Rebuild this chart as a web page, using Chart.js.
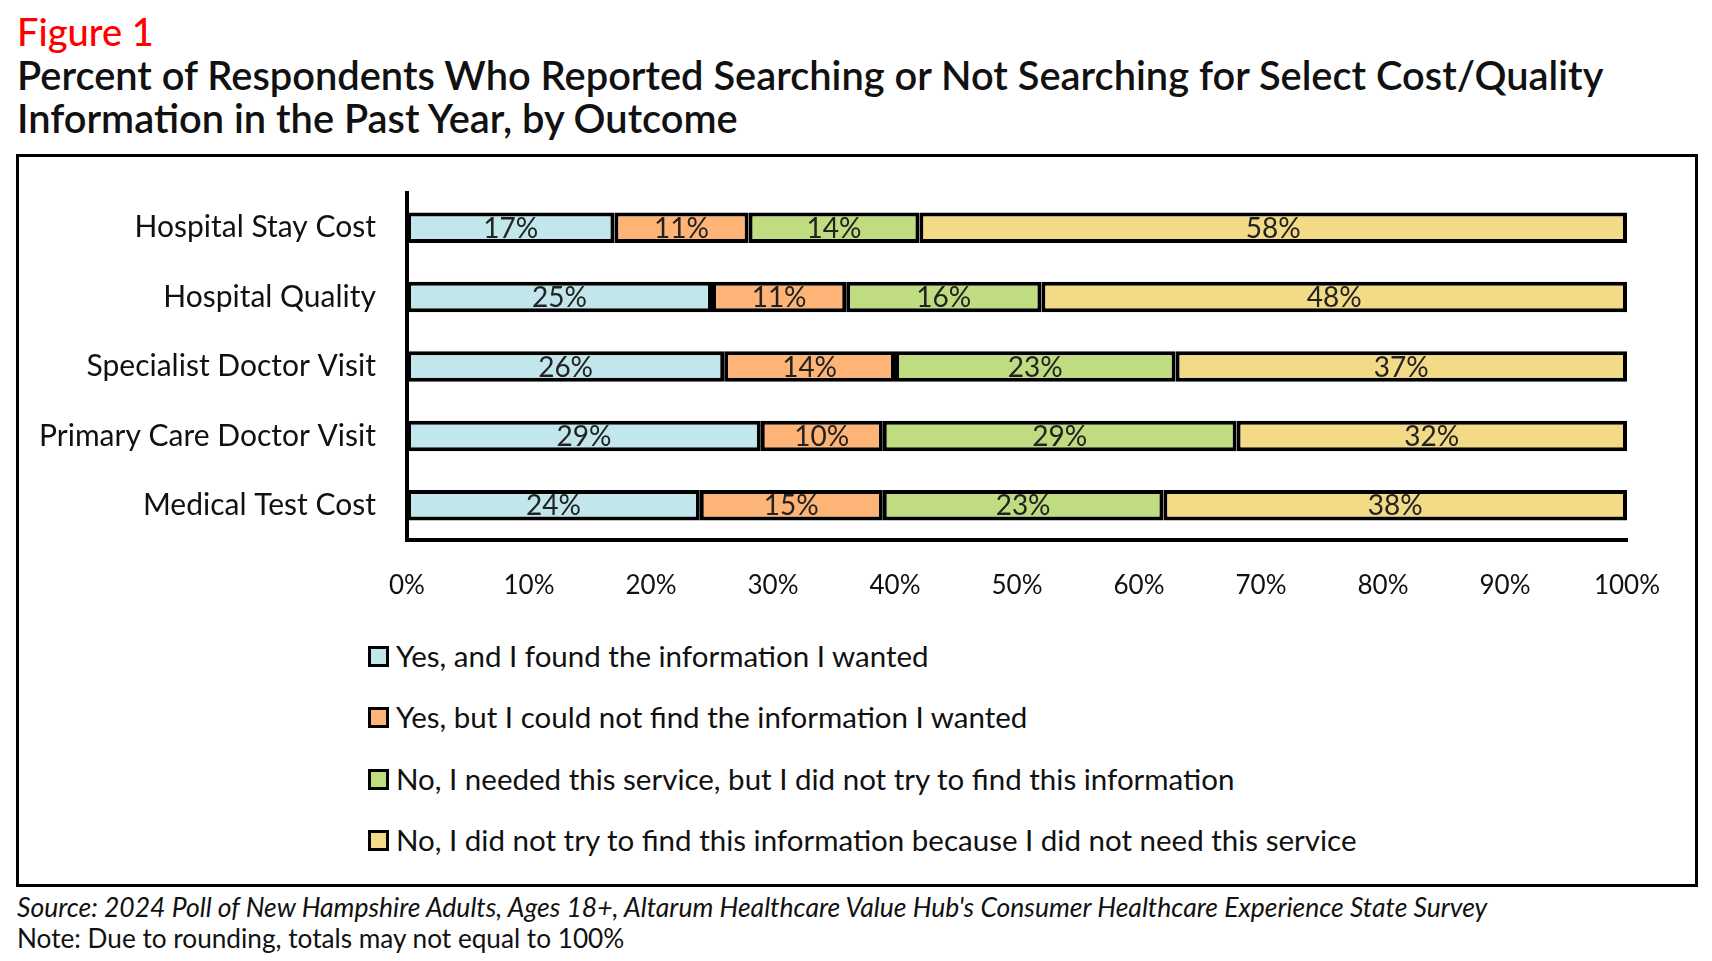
<!DOCTYPE html>
<html>
<head>
<meta charset="utf-8">
<script src="https://cdn.jsdelivr.net/npm/chart.js@4"></script>
<style>
    body { margin: 0; background: #fff; font-family: Lato, "Noto Sans", sans-serif; color: #111; }
    #page { position: relative; width: 1712px; height: 961px; overflow: hidden; }
    .fig { position: absolute; left: 17px; top: 8px; font-size: 38px; color: #ff0000; font-weight: 500; }
    .title { position: absolute; left: 17px; top: 53px; font-size: 39.8px; line-height: 43px; font-weight: 600; }
    #box { position: absolute; left: 16px; top: 154px; width: 1676px; height: 727px; border: 3px solid #000; }
    #wrap { position: absolute; left: 16px; top: 144px; width: 1682px; height: 473px; }
    #legend { position: absolute; left: 368px; top: 625px; font-size: 29.5px; }
    .item { height: 61.3px; display: flex; align-items: center; }
    .sw { width: 15px; height: 15px; border: 3px solid #000; margin: 2px 7px 0 0; box-sizing: content-box; }
    .src { position: absolute; left: 17px; top: 891px; font-size: 26.5px; font-style: italic; }
    .note { position: absolute; left: 17px; top: 922px; font-size: 26.2px; }
</style>
</head>
<body>
<div id="page">
    <div class="fig">Figure 1</div>
    <div class="title">Percent of Respondents Who Reported Searching or Not Searching for Select Cost/Quality<br>Information in the Past Year, by Outcome</div>
    <div id="box"></div>
    <div id="wrap"><canvas id="chart"></canvas></div>
    <div id="legend"></div>
    <div class="src">Source: 2024 Poll of New Hampshire Adults, Ages 18+, Altarum Healthcare Value Hub's Consumer Healthcare Experience State Survey</div>
    <div class="note">Note: Due to rounding, totals may not equal to 100%</div>
</div>
<script>
const categories = ['Hospital Stay Cost', 'Hospital Quality', 'Specialist Doctor Visit', 'Primary Care Doctor Visit', 'Medical Test Cost'];
const seriesNames = [
    'Yes, and I found the information I wanted',
    'Yes, but I could not find the information I wanted',
    'No, I needed this service, but I did not try to find this information',
    'No, I did not try to find this information because I did not need this service'
];
const foundIt = [17, 25, 26, 29, 24];
const notFound = [11, 11, 14, 10, 15];
const didNotTry = [14, 16, 23, 29, 23];
const notNeeded = [58, 48, 37, 32, 38];
const tickValues = [0, 10, 20, 30, 40, 50, 60, 70, 80, 90, 100];
const colors = ['#c1e6ec', '#fdb476', '#bfdc80', '#f2da87'];

const seriesValues = [foundIt, notFound, didNotTry, notNeeded];

// etiquettes au centre des segments
const barLabels = {
    id: 'barLabels',
    afterDatasetsDraw(chart) {
        const ctx = chart.ctx;
        ctx.save();
        ctx.font = '28px Lato, "Noto Sans", sans-serif';
        ctx.fillStyle = '#222';
        ctx.textAlign = 'center';
        ctx.textBaseline = 'middle';
        chart.data.datasets.forEach((ds, i) => {
            chart.getDatasetMeta(i).data.forEach((bar, j) => {
                const p = bar.getCenterPoint();
                ctx.fillText(ds.data[j] + '%', p.x, p.y + 1);
            });
        });
        ctx.restore();
    }
};

document.addEventListener('DOMContentLoaded', function () {
    const ctx = document.getElementById('chart').getContext('2d');
    const chart = new Chart(ctx, {
        type: 'bar',
        data: {
            labels: categories,
            datasets: seriesValues.map((vals, i) => ({
                label: seriesNames[i],
                data: vals,
                backgroundColor: colors[i],
                borderColor: '#000',
                borderWidth: 4,
                borderSkipped: false,
                barPercentage: 0.44,
                categoryPercentage: 1
            }))
        },
        options: {
            indexAxis: 'y',
            responsive: true,
            maintainAspectRatio: false,
            animation: false,
            layout: { padding: { top: 34, right: 71, bottom: 17, left: 0 } },
            plugins: {
                legend: { display: false },
                tooltip: { enabled: false }
            },
            scales: {
                x: {
                    stacked: true,
                    min: 0,
                    max: 100,
                    afterBuildTicks: s => { s.ticks = tickValues.map(v => ({ value: v })); },
                    afterFit: s => { s.height = 60; },
                    grid: { display: false, drawTicks: false },
                    border: { display: true, color: '#000', width: 4 },
                    ticks: {
                        padding: 30,
                        color: '#111',
                        font: { family: 'Lato', size: 26 },
                        maxRotation: 0,
                        callback: v => v + '%'
                    }
                },
                y: {
                    stacked: true,
                    afterFit: s => { s.width = 391; },
                    grid: { display: false, drawTicks: false },
                    border: { display: true, color: '#000', width: 4 },
                    ticks: {
                        padding: 31,
                        color: '#111',
                        font: { family: 'Lato', size: 30 }
                    }
                }
            }
        },
        plugins: [barLabels]
    });

    const legend = document.getElementById('legend');
    chart.data.datasets.forEach(ds => {
        const item = document.createElement('div');
        item.className = 'item';
        item.innerHTML = '<span class="sw" style="background:' + ds.backgroundColor + '"></span><span>' + ds.label + '</span>';
        legend.appendChild(item);
    });
});
</script>
</body>
</html>
